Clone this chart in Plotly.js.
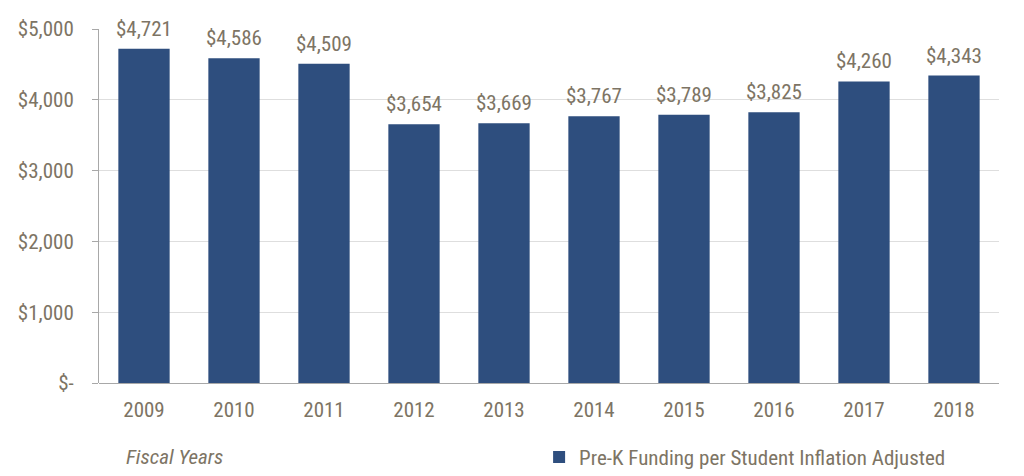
<!DOCTYPE html>
<html>
<head>
<meta charset="utf-8">
<script src="https://cdn.plot.ly/plotly-3.0.1.min.js"></script>
<style>
  body { margin: 0; background: #fff; }
  #chart { width: 1024px; height: 476px; }
</style>
</head>
<body>
<div id="chart"></div>
<script>
// chart data
var years = ["2009", "2010", "2011", "2012", "2013", "2014", "2015", "2016", "2017", "2018"];
var funding = [4721, 4586, 4509, 3654, 3669, 3767, 3789, 3825, 4260, 4343];
var yTickVals = [0, 1000, 2000, 3000, 4000, 5000];
var yTickText = ["$-", "$1,000", "$2,000", "$3,000", "$4,000", "$5,000"];

var textColor = "#7d7464";
var barColor = "#2e4e7e";
var fontFam = "'Liberation Sans Narrow', 'Roboto Condensed', sans-serif";
var fs = 21;

function money(v){
  return "$" + v.toLocaleString("en-US");
}

var data = [{
  type: "bar",
  x: years,
  y: funding,
  name: "Pre-K Funding per Student Inflation Adjusted",
  marker: {color: barColor},
  hoverinfo: "none"
}];

// value labels above each bar (x given as category index)
var labels = years.map(function(yr, k){
  return {
    x: k, y: funding[k], xref: "x", yref: "y",
    text: money(funding[k]),
    showarrow: false, yanchor: "bottom", yshift: 6,
    font: {family: fontFam, size: fs, color: textColor}
  };
});
labels.push({
  x: 0.028, y: -0.21, xref: "paper", yref: "paper",
  xanchor: "left", yanchor: "middle",
  text: "<i>Fiscal Years</i>", showarrow: false,
  font: {family: fontFam, size: fs, color: textColor}
});

var layout = {
  width: 1024,
  height: 476,
  margin: {l: 99, r: 25, t: 29, b: 93, autoexpand: false},
  paper_bgcolor: "#fff",
  plot_bgcolor: "#fff",
  bargap: 0.43,
  showlegend: true,
  legend: {
    orientation: "h", x: 0.489, y: -0.21, xanchor: "left", yanchor: "middle",
    font: {family: fontFam, size: fs, color: textColor},
    itemwidth: 30
  },
  xaxis: {
    type: "category",
    showline: false,
    ticks: "",
    tickfont: {family: fontFam, size: fs, color: textColor},
    ticklabelstandoff: 12
  },
  yaxis: {
    range: [0, 5000],
    tickvals: yTickVals,
    ticktext: yTickText,
    showgrid: true,
    gridcolor: "#dedede",
    showline: true,
    linecolor: "#a8a8a8",
    ticks: "outside",
    ticklen: 6,
    tickcolor: "#a8a8a8",
    zeroline: true,
    zerolinecolor: "#a8a8a8",
    tickfont: {family: fontFam, size: fs, color: textColor},
    ticklabelstandoff: 14
  },
  annotations: labels
};

Plotly.newPlot("chart", data, layout, {displayModeBar: false, staticPlot: true});
</script>
</body>
</html>
